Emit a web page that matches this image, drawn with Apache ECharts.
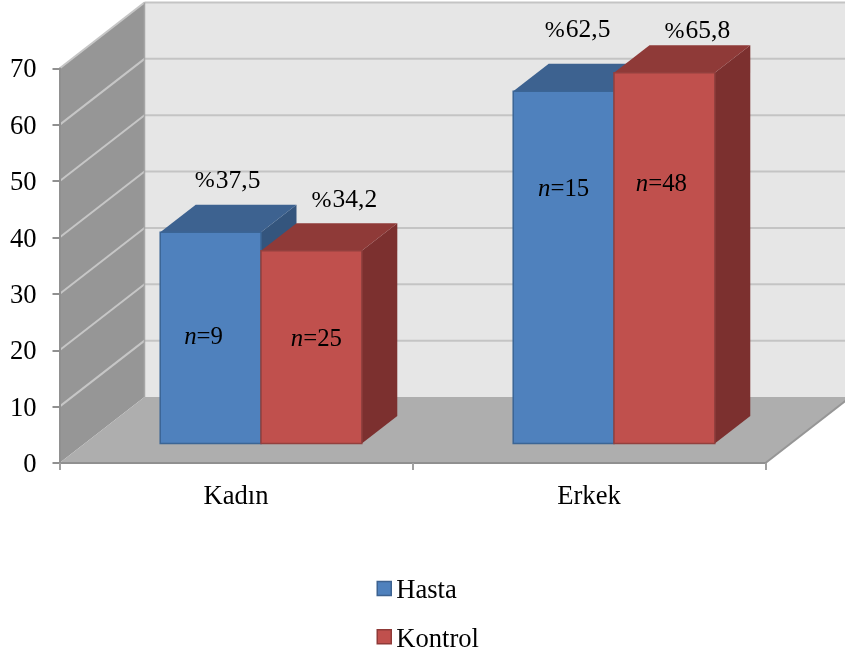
<!DOCTYPE html>
<html>
<head>
<meta charset="utf-8">
<style>html,body{margin:0;padding:0;background:#fff}#c{width:845px;height:655px}</style>
<script src="https://cdn.jsdelivr.net/npm/echarts@6/dist/echarts.min.js"></script>
</head>
<body>
<div id="c"></div>
<script>
const categories = ['Kadın', 'Erkek'];
const seriesNames = ['Hasta', 'Kontrol'];
const hasta = [37.5, 62.5];
const kontrol = [34.2, 65.8];
const hastaPct = ['37,5', '62,5'];
const kontrolPct = ['34,2', '65,8'];
const hastaN = ['9', '15'];
const kontrolN = ['25', '48'];
const yTicks = [0, 10, 20, 30, 40, 50, 60, 70];

// Label nudges from the bar's front face centre (px), as placed by hand in the reference
const hastaPctShift = [[17, -51], [14, -61]];
const kontrolPctShift = [[33, -50], [33, -41]];
const hastaNShift = [[-7, 0], [0, 0]];
const kontrolNShift = [[5, 0], [-3, 0]];
const hastaNY = [22.2, 48.5];
const kontrolNY = [22, 49.4];

// 3D look
const WALL_DX = 85, WALL_DY = -66;
const BAR_OFF_DX = 25, BAR_OFF_DY = -19.5;
const BAR_DX = 35.5, BAR_DY = -27.5;
const BAR_BAND_RATIO = 0.2855;
const FONT = '"Liberation Serif", "Times New Roman", serif';
const FS = 26.6;
const FS_N = 24.8;
const FS_V = 25.5;
const FS_P = 24;

const themes = [
  { front: '#4f81bd', top: '#3d6290', side: '#34557d', edge: '#3b6595' },
  { front: '#c0504d', top: '#8f3a38', side: '#7c302f', edge: '#93403e' }
];

function poly(points, fill, stroke, lw) {
  return { type: 'polygon', shape: { points: points }, style: { fill: fill, stroke: stroke || null, lineWidth: lw || 0 } };
}
function line(a, b, color, lw) {
  return { type: 'line', shape: { x1: a[0], y1: a[1], x2: b[0], y2: b[1] }, style: { stroke: color, lineWidth: lw, fill: null } };
}

function renderWalls(params, api) {
  const band = api.size([1, 0])[0];
  const x0 = api.coord([0, 0])[0] - band / 2;
  const x1 = api.coord([categories.length - 1, 0])[0] + band / 2;
  const yb = api.coord([0, yTicks[0]])[1];
  const yt = api.coord([0, yTicks[yTicks.length - 1]])[1];
  const children = [];
  children.push(poly([[x0 + WALL_DX, yt + WALL_DY], [x1 + WALL_DX, yt + WALL_DY], [x1 + WALL_DX, yb + WALL_DY], [x0 + WALL_DX, yb + WALL_DY]], '#e6e6e6'));
  children.push(poly([[x0, yb], [x0, yt], [x0 + WALL_DX, yt + WALL_DY], [x0 + WALL_DX, yb + WALL_DY]], '#969696'));
  children.push(poly([[x0, yb], [x1, yb], [x1 + WALL_DX, yb + WALL_DY], [x0 + WALL_DX, yb + WALL_DY]], '#aeaeae'));
  yTicks.forEach(function (t) {
    const y = api.coord([0, t])[1];
    if (t > 0) {
      children.push(line([x0, y], [x0 + WALL_DX, y + WALL_DY], '#c6c6c6', 2));
      children.push(line([x0 + WALL_DX, y + WALL_DY], [x1 + WALL_DX, y + WALL_DY], '#c4c4c4', 2));
    }
  });
  children.push(line([x0 + WALL_DX, yt + WALL_DY], [x0 + WALL_DX, yb + WALL_DY], '#a6a6a6', 1.5));
  children.push(line([x1, yb], [x1 + WALL_DX, yb + WALL_DY], '#969696', 2));
  return { type: 'group', children: children };
}

function makeBarRenderer(si, pct, pctShift, nText, nShift, nY) {
  return function (params, api) {
    const i = params.dataIndex;
    const idx = api.value(0), v = api.value(1);
    const band = api.size([1, 0])[0];
    const w = band * BAR_BAND_RATIO;
    const cx = api.coord([idx, 0])[0] + BAR_OFF_DX;
    const xl = cx + (si === 0 ? -w : 0), xr = xl + w;
    const yb = api.coord([idx, 0])[1] + BAR_OFF_DY;
    const yt = api.coord([idx, v])[1] + BAR_OFF_DY;
    const th = themes[si];
    const mid = (xl + xr) / 2;
    const rich = {
      p: { fontFamily: FONT, fontSize: FS_P, fill: '#000', padding: [0, 1, 0, 0] },
      v: { fontFamily: FONT, fontSize: FS_V, fill: '#000' },
      i: { fontFamily: FONT, fontSize: FS_N, fontStyle: 'italic', fill: '#000' },
      r: { fontFamily: FONT, fontSize: FS_N, fill: '#000' }
    };
    return {
      type: 'group',
      children: [
        poly([[xr, yb], [xr, yt], [xr + BAR_DX, yt + BAR_DY], [xr + BAR_DX, yb + BAR_DY]], th.side),
        poly([[xl, yt], [xr, yt], [xr + BAR_DX, yt + BAR_DY], [xl + BAR_DX, yt + BAR_DY]], th.top),
        poly([[xl, yb], [xl, yt], [xr, yt], [xr, yb]], th.front, th.edge, 1.5),
        {
          type: 'text',
          style: {
            text: '{p|%}{v|' + pct[i] + '}', rich: rich,
            x: mid + pctShift[i][0], y: yt + pctShift[i][1],
            align: 'center', verticalAlign: 'middle', font: FS_V + 'px ' + FONT
          }
        },
        {
          type: 'text',
          style: {
            text: '{i|n}{r|=' + nText[i] + '}', rich: rich,
            x: mid + nShift[i][0], y: api.coord([idx, nY[i]])[1],
            align: 'center', verticalAlign: 'middle', font: FS_N + 'px ' + FONT
          }
        }
      ]
    };
  };
}

const chart = echarts.init(document.getElementById('c'), null, { renderer: 'canvas' });
chart.setOption({
  animation: false,
  backgroundColor: '#fff',
  textStyle: { fontFamily: FONT },
  grid: { left: 59.5, right: 79.5, top: 68.5, bottom: 192, containLabel: false },
  legend: {
    left: 376.5,
    top: 572,
    padding: 0,
    orient: 'vertical',
    itemWidth: 14,
    itemHeight: 14,
    itemGap: 15.3,
    icon: 'rect',
    formatter: '{a|{name}}',
    textStyle: {
      fontFamily: FONT, fontSize: FS, color: '#000',
      rich: { a: { fontFamily: FONT, fontSize: FS, color: '#000', lineHeight: 26, padding: [6, 0, 0, 0] } }
    },
    data: [
      { name: seriesNames[0], icon: 'rect', itemStyle: { color: themes[0].front, borderColor: themes[0].top, borderWidth: 1.5 } },
      { name: seriesNames[1], icon: 'rect', itemStyle: { color: themes[1].front, borderColor: themes[1].top, borderWidth: 1.5 } }
    ]
  },
  xAxis: {
    type: 'category',
    data: categories,
    z: 5,
    boundaryGap: true,
    axisLine: { show: true, lineStyle: { color: '#909090', width: 2 } },
    axisTick: { show: true, length: 7, alignWithLabel: false, lineStyle: { color: '#a0a0a0', width: 2 } },
    axisLabel: { margin: 21, fontFamily: FONT, fontSize: FS, color: '#000' },
    splitLine: { show: false }
  },
  yAxis: {
    type: 'value',
    min: 0,
    max: 70,
    interval: 10,
    z: 5,
    axisLine: { show: true, lineStyle: { color: '#909090', width: 2 } },
    axisTick: { show: true, length: 7, lineStyle: { color: '#909090', width: 2 } },
    axisLabel: { margin: 23, fontFamily: FONT, fontSize: FS, color: '#000', verticalAlign: 'top', lineHeight: 4 },
    splitLine: { show: false }
  },
  series: [
    { type: 'custom', name: 'walls', silent: true, z: 1, data: [[0, 0]], encode: { x: 0, y: 1 }, renderItem: renderWalls, clip: false },
    {
      type: 'custom', name: seriesNames[0], z: 2, silent: true,
      itemStyle: { color: themes[0].front },
      encode: { x: 0, y: 1 },
      data: hasta.map(function (v, i) { return [i, v]; }),
      renderItem: makeBarRenderer(0, hastaPct, hastaPctShift, hastaN, hastaNShift, hastaNY)
    },
    {
      type: 'custom', name: seriesNames[1], z: 3, silent: true,
      itemStyle: { color: themes[1].front },
      encode: { x: 0, y: 1 },
      data: kontrol.map(function (v, i) { return [i, v]; }),
      renderItem: makeBarRenderer(1, kontrolPct, kontrolPctShift, kontrolN, kontrolNShift, kontrolNY)
    }
  ]
});
</script>
</body>
</html>
